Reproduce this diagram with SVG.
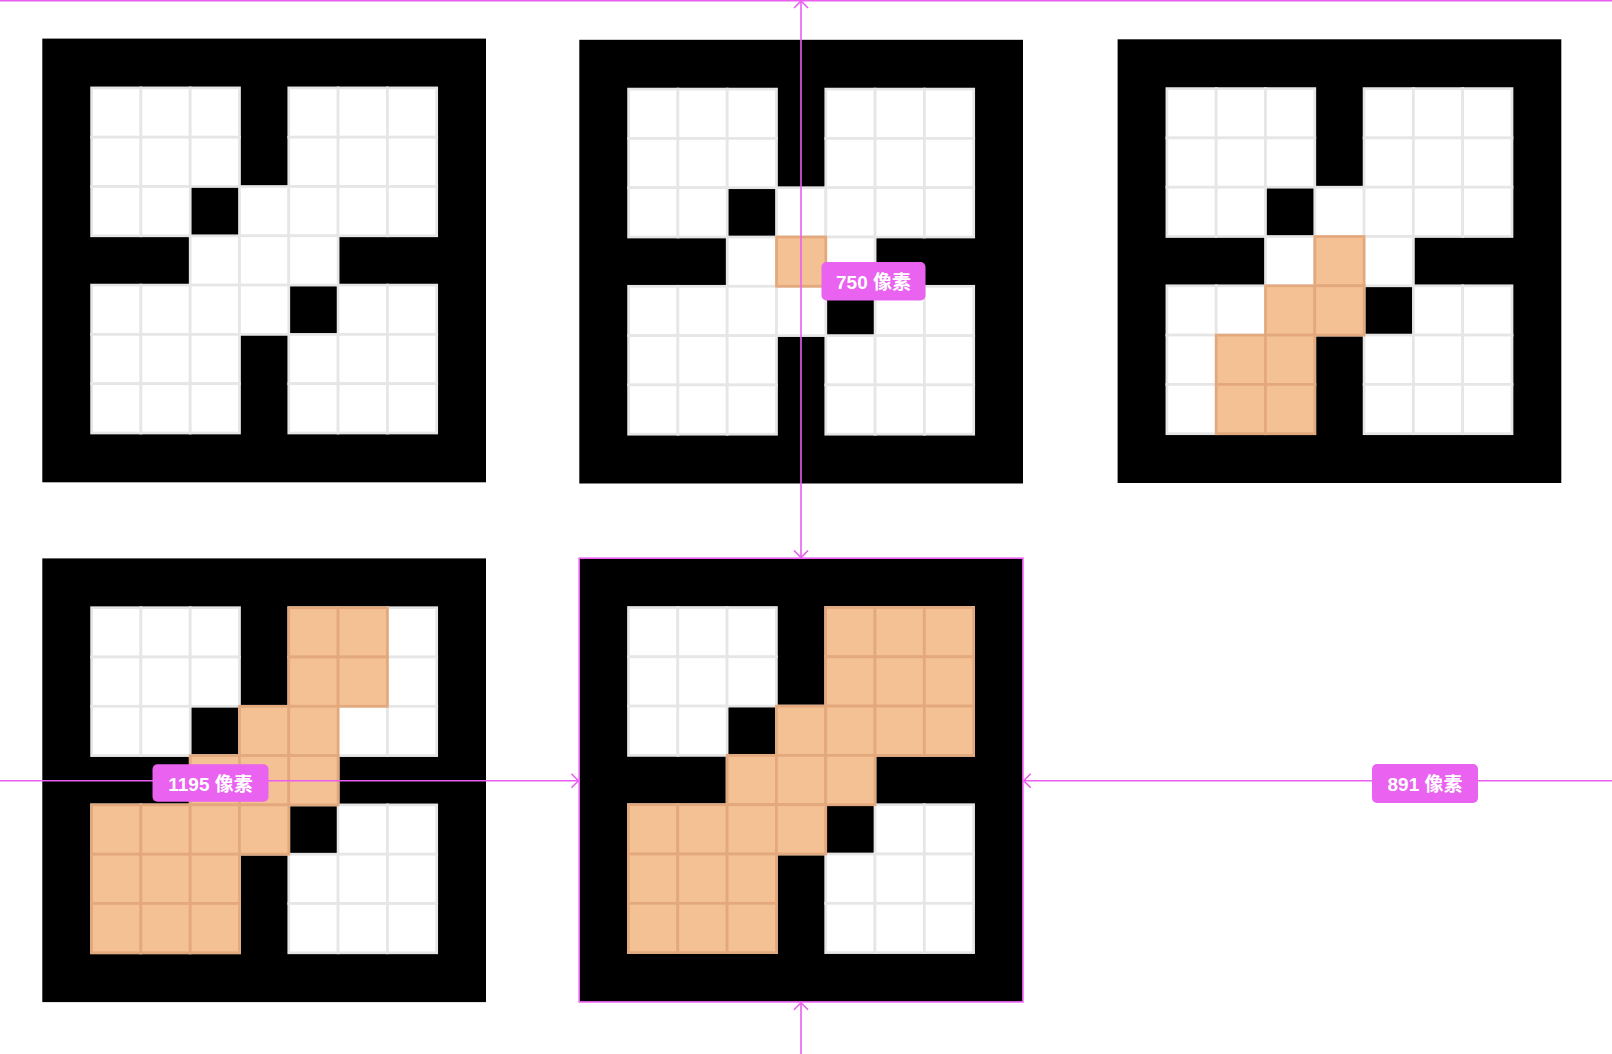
<svg xmlns="http://www.w3.org/2000/svg" xmlns:xlink="http://www.w3.org/1999/xlink" width="1612" height="1054" viewBox="0 0 1612 1054">
<style>
.w{fill:#ffffff;stroke:#e6e6e6;stroke-width:0.055}
.o{fill:#f4c194;stroke:#e3a87c;stroke-width:0.055}
.m{stroke:#ea5ef2;stroke-width:1.6;fill:none}
.lbl{fill:#e962f0}
.t{font-family:"Liberation Sans","Noto Sans CJK SC",sans-serif;font-size:19px;font-weight:bold;fill:#ffffff;text-anchor:middle}
</style>
<defs>
<marker id="chev" viewBox="-10 -10 20 20" refX="0" refY="0" markerWidth="20" markerHeight="20" markerUnits="userSpaceOnUse" orient="auto-start-reverse">
<path d="M-7,-7 L0,0 L-7,7" fill="none" stroke="#ea5ef2" stroke-width="1.6"/>
</marker>
<g id="base">
<rect width="9" height="9" fill="#000"/>
<rect class="w" x="1" y="1" width="1" height="1"/><rect class="w" x="2" y="1" width="1" height="1"/><rect class="w" x="3" y="1" width="1" height="1"/>
<rect class="w" x="5" y="1" width="1" height="1"/><rect class="w" x="6" y="1" width="1" height="1"/><rect class="w" x="7" y="1" width="1" height="1"/>
<rect class="w" x="1" y="2" width="1" height="1"/><rect class="w" x="2" y="2" width="1" height="1"/><rect class="w" x="3" y="2" width="1" height="1"/>
<rect class="w" x="5" y="2" width="1" height="1"/><rect class="w" x="6" y="2" width="1" height="1"/><rect class="w" x="7" y="2" width="1" height="1"/>
<rect class="w" x="1" y="3" width="1" height="1"/><rect class="w" x="2" y="3" width="1" height="1"/><rect class="w" x="4" y="3" width="1" height="1"/>
<rect class="w" x="5" y="3" width="1" height="1"/><rect class="w" x="6" y="3" width="1" height="1"/><rect class="w" x="7" y="3" width="1" height="1"/>
<rect class="w" x="3" y="4" width="1" height="1"/><rect class="w" x="4" y="4" width="1" height="1"/><rect class="w" x="5" y="4" width="1" height="1"/>
<rect class="w" x="1" y="5" width="1" height="1"/><rect class="w" x="2" y="5" width="1" height="1"/><rect class="w" x="3" y="5" width="1" height="1"/>
<rect class="w" x="4" y="5" width="1" height="1"/><rect class="w" x="6" y="5" width="1" height="1"/><rect class="w" x="7" y="5" width="1" height="1"/>
<rect class="w" x="1" y="6" width="1" height="1"/><rect class="w" x="2" y="6" width="1" height="1"/><rect class="w" x="3" y="6" width="1" height="1"/>
<rect class="w" x="5" y="6" width="1" height="1"/><rect class="w" x="6" y="6" width="1" height="1"/><rect class="w" x="7" y="6" width="1" height="1"/>
<rect class="w" x="1" y="7" width="1" height="1"/><rect class="w" x="2" y="7" width="1" height="1"/><rect class="w" x="3" y="7" width="1" height="1"/>
<rect class="w" x="5" y="7" width="1" height="1"/><rect class="w" x="6" y="7" width="1" height="1"/><rect class="w" x="7" y="7" width="1" height="1"/>
</g>
</defs>
<rect width="1612" height="1054" fill="#ffffff"/>

<g id="panel-1" transform="translate(42.3,38.6) scale(49.3)">
<use href="#base" xlink:href="#base"/>
</g>

<g id="panel-2" transform="translate(579.3,39.8) scale(49.3)">
<use href="#base" xlink:href="#base"/>
<rect class="o" x="4" y="4" width="1" height="1"/>
</g>

<g id="panel-3" transform="translate(1117.6,39.3) scale(49.3)">
<use href="#base" xlink:href="#base"/>
<rect class="o" x="4" y="4" width="1" height="1"/>
<rect class="o" x="3" y="5" width="1" height="1"/><rect class="o" x="4" y="5" width="1" height="1"/>
<rect class="o" x="2" y="6" width="1" height="1"/><rect class="o" x="3" y="6" width="1" height="1"/>
<rect class="o" x="2" y="7" width="1" height="1"/><rect class="o" x="3" y="7" width="1" height="1"/>
</g>

<g id="panel-4" transform="translate(42.3,558.4) scale(49.3)">
<use href="#base" xlink:href="#base"/>
<rect class="o" x="5" y="1" width="1" height="1"/><rect class="o" x="6" y="1" width="1" height="1"/>
<rect class="o" x="5" y="2" width="1" height="1"/><rect class="o" x="6" y="2" width="1" height="1"/>
<rect class="o" x="4" y="3" width="1" height="1"/><rect class="o" x="5" y="3" width="1" height="1"/>
<rect class="o" x="3" y="4" width="1" height="1"/><rect class="o" x="4" y="4" width="1" height="1"/><rect class="o" x="5" y="4" width="1" height="1"/>
<rect class="o" x="1" y="5" width="1" height="1"/><rect class="o" x="2" y="5" width="1" height="1"/><rect class="o" x="3" y="5" width="1" height="1"/><rect class="o" x="4" y="5" width="1" height="1"/>
<rect class="o" x="1" y="6" width="1" height="1"/><rect class="o" x="2" y="6" width="1" height="1"/><rect class="o" x="3" y="6" width="1" height="1"/>
<rect class="o" x="1" y="7" width="1" height="1"/><rect class="o" x="2" y="7" width="1" height="1"/><rect class="o" x="3" y="7" width="1" height="1"/>
</g>

<g id="panel-5" transform="translate(579.2,558.2) scale(49.3)">
<use href="#base" xlink:href="#base"/>
<rect class="o" x="5" y="1" width="1" height="1"/><rect class="o" x="6" y="1" width="1" height="1"/><rect class="o" x="7" y="1" width="1" height="1"/>
<rect class="o" x="5" y="2" width="1" height="1"/><rect class="o" x="6" y="2" width="1" height="1"/><rect class="o" x="7" y="2" width="1" height="1"/>
<rect class="o" x="4" y="3" width="1" height="1"/><rect class="o" x="5" y="3" width="1" height="1"/><rect class="o" x="6" y="3" width="1" height="1"/><rect class="o" x="7" y="3" width="1" height="1"/>
<rect class="o" x="3" y="4" width="1" height="1"/><rect class="o" x="4" y="4" width="1" height="1"/><rect class="o" x="5" y="4" width="1" height="1"/>
<rect class="o" x="1" y="5" width="1" height="1"/><rect class="o" x="2" y="5" width="1" height="1"/><rect class="o" x="3" y="5" width="1" height="1"/><rect class="o" x="4" y="5" width="1" height="1"/>
<rect class="o" x="1" y="6" width="1" height="1"/><rect class="o" x="2" y="6" width="1" height="1"/><rect class="o" x="3" y="6" width="1" height="1"/>
<rect class="o" x="1" y="7" width="1" height="1"/><rect class="o" x="2" y="7" width="1" height="1"/><rect class="o" x="3" y="7" width="1" height="1"/>
</g>

<g id="connectors">
<rect class="m" x="579.2" y="558.2" width="443.7" height="443.7"/>
<line class="m" x1="0" y1="0.8" x2="1612" y2="0.8"/>
<line class="m" x1="801" y1="1" x2="801" y2="557.5" marker-start="url(#chev)" marker-end="url(#chev)"/>
<line class="m" x1="801" y1="1054" x2="801" y2="1002.8" marker-end="url(#chev)"/>
<line class="m" x1="0" y1="780.7" x2="578.4" y2="780.7" marker-end="url(#chev)"/>
<line class="m" x1="1612" y1="780.7" x2="1023.7" y2="780.7" marker-end="url(#chev)"/>
</g>

<g id="label-750">
<rect class="lbl" x="821.5" y="262" width="104" height="38.5" rx="5"/>
<text class="t" x="873.5" y="288.5">750 像素</text>
</g>
<g id="label-1195">
<rect class="lbl" x="152.5" y="764.3" width="116" height="37.5" rx="5"/>
<text class="t" x="210.5" y="790.5">1195 像素</text>
</g>
<g id="label-891">
<rect class="lbl" x="1372" y="764" width="106" height="39" rx="5"/>
<text class="t" x="1425" y="790.5">891 像素</text>
</g>
</svg>
